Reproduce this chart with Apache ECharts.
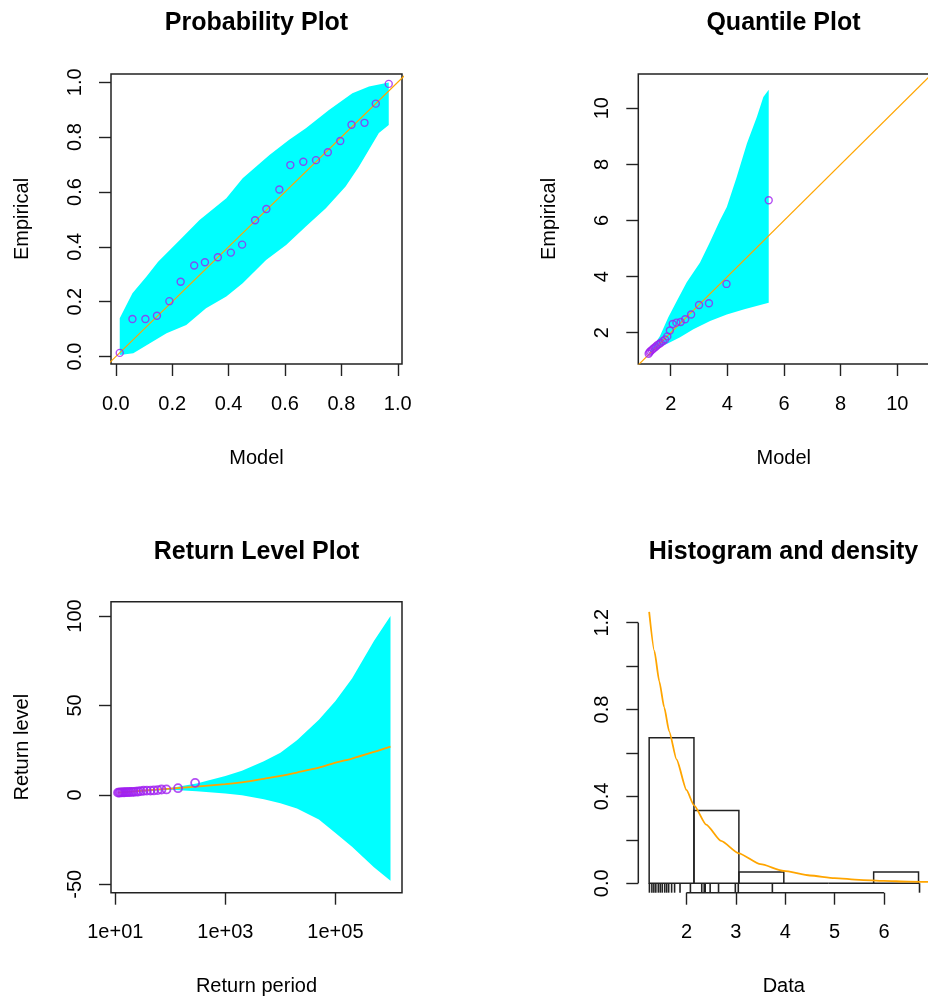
<!DOCTYPE html>
<html>
<head>
<meta charset="utf-8">
<script src="https://cdn.jsdelivr.net/npm/echarts@6/dist/echarts.min.js"></script>
<style>
  html, body { margin: 0; padding: 0; background: #fff; }
  #chart { width: 928px; height: 998px; }
</style>
</head>
<body>
<div id="chart"></div>
<script>
const FONT = "Liberation Sans, Arial, Helvetica, sans-serif";

// probability plot
const probModel = [0.014, 0.059, 0.105, 0.146, 0.19, 0.23, 0.278, 0.316, 0.362, 0.408, 0.448, 0.494,
  0.534, 0.58, 0.619, 0.665, 0.71, 0.752, 0.796, 0.836, 0.882, 0.922, 0.968];
const probEmp = [0.0135, 0.137, 0.137, 0.149, 0.202, 0.273, 0.332, 0.344, 0.362, 0.379, 0.408, 0.497,
  0.538, 0.609, 0.698, 0.71, 0.716, 0.745, 0.786, 0.845, 0.852, 0.922, 0.994];
const probUpperX = [0.014, 0.059, 0.109, 0.15, 0.227, 0.297, 0.392, 0.45, 0.545, 0.615, 0.674, 0.756, 0.839, 0.898, 0.968];
const probUpperY = [0.14, 0.231, 0.292, 0.346, 0.425, 0.498, 0.577, 0.65, 0.735, 0.79, 0.832, 0.899, 0.96, 0.984, 0.999];
const probLowerX = [0.014, 0.062, 0.121, 0.18, 0.25, 0.32, 0.392, 0.45, 0.533, 0.604, 0.674, 0.745, 0.815, 0.862, 0.933, 0.968];
const probLowerY = [0.006, 0.012, 0.049, 0.085, 0.115, 0.176, 0.219, 0.267, 0.352, 0.407, 0.474, 0.541, 0.62, 0.692, 0.815, 0.844];
const probTicks = [0, 0.2, 0.4, 0.6, 0.8, 1.0];

// observed data (sorted), used by quantile, return level and histogram panels
const obs = [1.25, 1.30, 1.34, 1.38, 1.43, 1.47, 1.51, 1.56, 1.60, 1.64, 1.70, 1.76, 1.87, 2.08,
  2.31, 2.36, 2.38, 2.48, 2.65, 2.99, 3.05, 3.74, 6.72];

// quantile plot
const quantModel = [1.22, 1.25, 1.28, 1.33, 1.38, 1.43, 1.48, 1.53, 1.59, 1.65, 1.72, 1.80, 1.88, 1.97,
  2.07, 2.20, 2.35, 2.51, 2.72, 3.00, 3.35, 3.97, 5.46];
const quantUpperX = [1.25, 1.385, 1.62, 1.915, 2.21, 2.565, 3.035, 3.39, 3.74, 3.98, 4.33, 4.69, 5.04, 5.27, 5.46];
const quantUpperY = [1.30, 1.52, 1.88, 2.55, 3.12, 3.80, 4.5, 5.24, 6.01, 6.48, 7.55, 8.74, 9.69, 10.40, 10.66];
const quantLowerX = [1.25, 1.505, 1.86, 2.33, 2.80, 3.39, 3.98, 4.6, 5.16, 5.46];
const quantLowerY = [1.25, 1.45, 1.60, 1.84, 2.12, 2.42, 2.65, 2.84, 2.99, 3.07];
const quantTicks = [2, 4, 6, 8, 10];

// return level plot
const obsPeriod = [11.2, 11.8, 12.4, 13.2, 13.9, 14.8, 15.8, 16.9, 18.2, 19.8, 21.5, 23.6, 26.1, 29.0,
  32.7, 37.5, 43.6, 50.1, 58.9, 69.2, 85.1, 138, 282];
const rlPeriod = [11.2, 30, 100, 300, 1e3, 2e3, 5e3, 1e4, 2e4, 5e4, 1e5, 2e5, 5e5, 1e6];
const rlLevel = [1.3, 2.3, 3.5, 4.6, 6.0, 7.0, 9.0, 10.6, 12.5, 15.2, 18.0, 20.3, 24.0, 27.0];
const rlUpper = [1.6, 2.6, 3.9, 6.3, 10.5, 13.5, 18.8, 23.5, 30.5, 42, 52.5, 65, 86, 100];
const rlLower = [1.0, 1.9, 2.8, 2.0, 0.8, -0.2, -2.5, -4.7, -7.6, -13.8, -21.3, -29, -40.5, -48];
const rlXTicks = [1, 3, 5]; // log10 of return period
const rlYTicks = [-50, 0, 50, 100];

// histogram and density
const histBreaks = [1.245, 2.152, 3.062, 3.972, 4.881, 5.791, 6.70];
const histDensity = [0.67, 0.335, 0.052, 0, 0, 0.052];
const densX = [1.245, 1.35, 1.45, 1.55, 1.65, 1.80, 2.0, 2.15, 2.4, 2.7, 3.06, 3.5, 3.97, 4.5, 5.0, 5.5, 6.0, 6.5, 6.92];
const densY = [1.25, 1.07, 0.93, 0.81, 0.70, 0.57, 0.43, 0.36, 0.27, 0.195, 0.138, 0.088, 0.057, 0.036, 0.024, 0.016, 0.011, 0.008, 0.006];
const histXTicks = [2, 3, 4, 5, 6];
const histYTicks = [0, 0.2, 0.4, 0.6, 0.8, 1.0, 1.2];
const histYLabels = [0, 0.4, 0.8, 1.2];

// axis ranges (R style 4% padding)
const r1 = { x: [-0.017, 1.015], y: [-0.027, 1.03] };
const r2 = { x: [0.855, 11.13], y: [0.886, 11.22] };
const r3 = { x: [0.922, 6.209], y: [-54.7, 108] };
const r4 = { x: [1.025, 6.918], y: [-0.0433, 1.2967] };

const CYAN = "#00FFFF";
const ORANGE = "#FFA500";
const PURPLE = "#A020F0";
const INK = "#222";

const zip = (a, b) => a.map((v, i) => [v, b[i]]);
const lg = (v) => Math.log10(v);

const labelFont = { fontFamily: FONT, fontSize: 20, color: "#000" };
const tickStyle = { show: true, inside: false, length: 12, lineStyle: { color: INK, width: 1.4 } };

const xAx = (gi, range, ticks, fmt, name) => ({
  type: "value", gridIndex: gi, min: range[0], max: range[1],
  axisLine: { show: false, onZero: false },
  axisTick: { ...tickStyle, customValues: ticks },
  axisLabel: { ...labelFont, margin: 30, customValues: ticks, formatter: fmt },
  splitLine: { show: false },
  name, nameLocation: "middle", nameGap: 84, nameTextStyle: labelFont,
});

const yAx = (gi, range, ticks, labels, fmt, name) => ({
  type: "value", gridIndex: gi, min: range[0], max: range[1],
  axisLine: { show: false, onZero: false },
  axisTick: { ...tickStyle, customValues: ticks },
  axisLabel: { ...labelFont, margin: 26, rotate: 90, customValues: labels, formatter: fmt },
  splitLine: { show: false },
  name, nameLocation: "middle", nameGap: 79, nameTextStyle: labelFont,
});

const bandSeries = (gi, pts) => ({
  type: "custom", xAxisIndex: gi, yAxisIndex: gi, clip: true, z: 1,
  data: [pts[0]],
  renderItem: (params, api) => ({
    type: "polygon",
    shape: { points: pts.map((p) => api.coord(p)) },
    style: { fill: CYAN, stroke: null },
  }),
});

const pointSeries = (gi, data, size, width) => ({
  type: "scatter", xAxisIndex: gi, yAxisIndex: gi, z: 4,
  symbol: "circle", symbolSize: size,
  itemStyle: { color: "rgba(0,0,0,0)", borderColor: PURPLE, borderWidth: width },
  data,
});

const lineSeries = (gi, data, width, extra) => ({
  type: "line", xAxisIndex: gi, yAxisIndex: gi, z: 3,
  showSymbol: false, symbol: "none", clip: true,
  lineStyle: { color: ORANGE, width },
  data, ...extra,
});

const probBand = zip(probUpperX, probUpperY).concat(zip(probLowerX, probLowerY).reverse());
const quantBand = zip(quantUpperX, quantUpperY).concat(zip(quantLowerX, quantLowerY).reverse());
const rlBand = zip(rlPeriod.map(lg), rlUpper).concat(zip(rlPeriod.map(lg), rlLower).reverse());

const grids = [
  { left: 111, top: 74, width: 291, height: 290, show: true },
  { left: 638.3, top: 74, width: 291, height: 290, show: true },
  { left: 111, top: 601.7, width: 291, height: 291, show: true },
  { left: 638.3, top: 601.7, width: 291, height: 291, show: false },
].map((g) => ({ ...g, borderColor: INK, borderWidth: 1.5, backgroundColor: "transparent",
  containLabel: false, outerBoundsMode: "none" }));

const titleAt = (text, x, y) => ({
  text, left: x, top: y, textAlign: "center", padding: 0,
  textStyle: { fontFamily: FONT, fontSize: 25, fontWeight: "bold", color: "#000" },
});

const fmt1 = (v) => v.toFixed(1);
const fmt0 = (v) => String(v);

const chart = echarts.init(document.getElementById("chart"));

const option = {
  animation: false,
  backgroundColor: "#fff",
  title: [
    titleAt("Probability Plot", 256.5, 11),
    titleAt("Quantile Plot", 783.5, 11),
    titleAt("Return Level Plot", 256.5, 540),
    titleAt("Histogram and density", 783.5, 540),
  ],
  grid: grids,
  xAxis: [
    xAx(0, r1.x, probTicks, fmt1, "Model"),
    xAx(1, r2.x, quantTicks, fmt0, "Model"),
    xAx(2, r3.x, rlXTicks, (v) => "1e+" + String(v).padStart(2, "0"), "Return period"),
    xAx(3, r4.x, histXTicks, fmt0, "Data"),
  ],
  yAxis: [
    yAx(0, r1.y, probTicks, probTicks, fmt1, "Empirical"),
    yAx(1, r2.y, quantTicks, quantTicks, fmt0, "Empirical"),
    yAx(2, r3.y, rlYTicks, rlYTicks, fmt0, "Return level"),
    yAx(3, r4.y, histYTicks, histYLabels, fmt1, ""),
  ],
  series: [
    // probability plot
    bandSeries(0, probBand),
    lineSeries(0, [[r1.y[0], r1.y[0]], [r1.y[1], r1.y[1]]], 1.2),
    pointSeries(0, zip(probModel, probEmp), 7, 1.4),

    // quantile plot
    bandSeries(1, quantBand),
    lineSeries(1, [[r2.x[0], r2.x[0]], [r2.y[1], r2.y[1]]], 1.2),
    pointSeries(1, zip(quantModel, obs), 7, 1.4),

    // return level plot
    bandSeries(2, rlBand),
    lineSeries(2, zip(rlPeriod.map(lg), rlLevel), 1.8, { smooth: 0.3 }),
    pointSeries(2, zip(obsPeriod.map(lg), obs), 8, 1.8),

    // histogram bars
    {
      type: "custom", xAxisIndex: 3, yAxisIndex: 3, z: 2, clip: false,
      data: histDensity.map((h, i) => [histBreaks[i], histBreaks[i + 1], h]),
      encode: { x: [0, 1], y: 2 },
      renderItem: (params, api) => {
        const p0 = api.coord([api.value(0), 0]);
        const p1 = api.coord([api.value(1), api.value(2)]);
        return {
          type: "rect",
          shape: { x: p0[0], y: p1[1], width: p1[0] - p0[0], height: p0[1] - p1[1] },
          style: { fill: null, stroke: INK, lineWidth: 1.5 },
        };
      },
    },
    // rug
    {
      type: "custom", xAxisIndex: 3, yAxisIndex: 3, z: 2, clip: false,
      data: obs.map((v) => [v, r4.y[0]]),
      renderItem: (params, api) => {
        const p = api.coord([api.value(0), api.value(1)]);
        return {
          type: "line",
          shape: { x1: p[0], y1: p[1], x2: p[0], y2: p[1] - 9.5 },
          style: { stroke: INK, lineWidth: 1.6 },
        };
      },
    },
    // density curve
    lineSeries(3, zip(densX, densY), 1.8, { smooth: 0.2, smoothMonotone: "x" }),
    // R style axis lines spanning the tick range only
    {
      type: "line", xAxisIndex: 3, yAxisIndex: 3, z: 2, clip: false, symbol: "none",
      lineStyle: { color: INK, width: 1.5 },
      data: [[histXTicks[0], r4.y[0]], [histXTicks[histXTicks.length - 1], r4.y[0]]],
    },
    {
      type: "line", xAxisIndex: 3, yAxisIndex: 3, z: 2, clip: false, symbol: "none",
      lineStyle: { color: INK, width: 1.5 },
      data: [[r4.x[0], histYTicks[0]], [r4.x[0], histYTicks[histYTicks.length - 1]]],
    },
  ],
};

option && chart.setOption(option);
</script>
</body>
</html>
